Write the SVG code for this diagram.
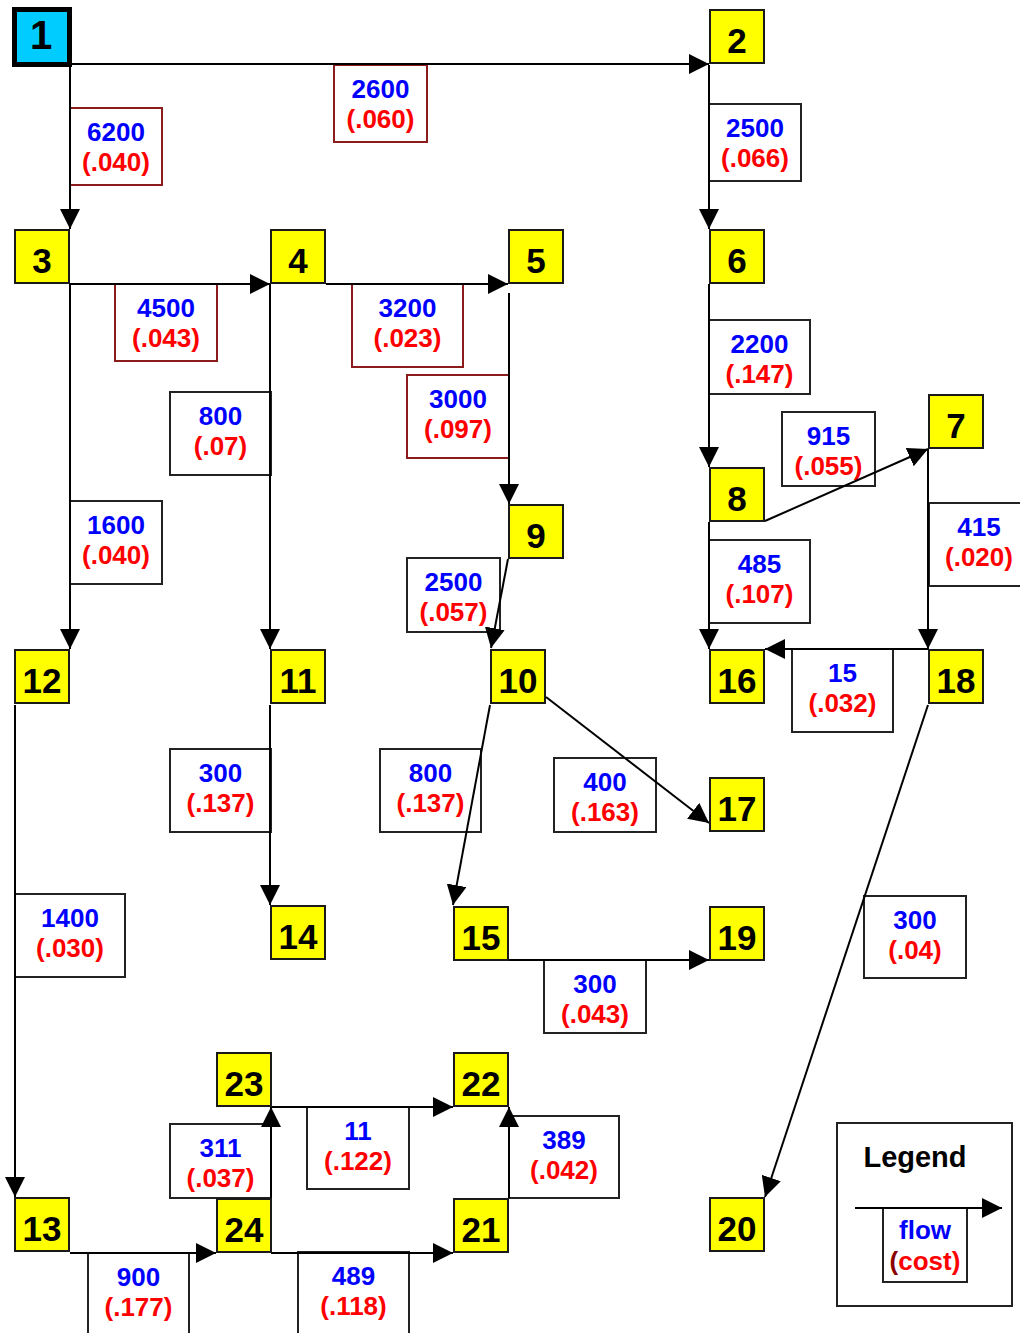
<svg xmlns="http://www.w3.org/2000/svg" width="1020" height="1333" viewBox="0 0 1020 1333">
<style>
text{font-family:"Liberation Sans",Arial,Helvetica,sans-serif;font-weight:bold;text-anchor:middle}
.n rect{fill:#ffff00;stroke:#1a1a1a;stroke-width:2}
.n text{font-size:35px;fill:#000}
.e{fill:none;stroke:#000;stroke-width:2}
.ea{fill:none;stroke:#000;stroke-width:2;marker-end:url(#ah)}
.lb rect{fill:#fff;stroke:#222;stroke-width:2}
.lb.r rect{stroke:#8c1c1c}
.lb text{font-size:26px}
.f{fill:#0000ff}
.c{fill:#ff0000}
</style>
<defs>
<marker id="ah" markerUnits="userSpaceOnUse" markerWidth="20" markerHeight="20" refX="20" refY="10" orient="auto">
<path d="M0,0 L20,10 L0,20 z" fill="#000"/>
</marker>
</defs>
<rect x="0" y="0" width="1020" height="1333" fill="#fff"/>

<g id="labels">
<g id="lbl-1-2" class="lb r"><rect x="334" y="65" width="93" height="77"/><text x="380.5" y="98" class="f">2600</text><text x="380.5" y="128" class="c">(.060)</text></g>
<g id="lbl-1-3" class="lb r"><rect x="70" y="108" width="92" height="77"/><text x="116" y="141" class="f">6200</text><text x="116" y="171" class="c">(.040)</text></g>
<g id="lbl-2-6" class="lb"><rect x="709" y="104" width="92" height="77"/><text x="755" y="137" class="f">2500</text><text x="755" y="167" class="c">(.066)</text></g>
<g id="lbl-3-4" class="lb r"><rect x="115" y="284" width="102" height="77"/><text x="166" y="317" class="f">4500</text><text x="166" y="347" class="c">(.043)</text></g>
<g id="lbl-4-5" class="lb r"><rect x="352" y="284" width="111" height="83"/><text x="407.5" y="317" class="f">3200</text><text x="407.5" y="347" class="c">(.023)</text></g>
<g id="lbl-4-11" class="lb"><rect x="170" y="392" width="101" height="83"/><text x="220.5" y="425" class="f">800</text><text x="220.5" y="455" class="c">(.07)</text></g>
<g id="lbl-5-9" class="lb r"><rect x="407" y="375" width="102" height="83"/><text x="458" y="408" class="f">3000</text><text x="458" y="438" class="c">(.097)</text></g>
<g id="lbl-6-8" class="lb"><rect x="709" y="320" width="101" height="74"/><text x="759.5" y="353" class="f">2200</text><text x="759.5" y="383" class="c">(.147)</text></g>
<g id="lbl-8-7" class="lb"><rect x="782" y="412" width="93" height="74"/><text x="828.5" y="445" class="f">915</text><text x="828.5" y="475" class="c">(.055)</text></g>
<g id="lbl-3-12" class="lb"><rect x="70" y="501" width="92" height="83"/><text x="116" y="534" class="f">1600</text><text x="116" y="564" class="c">(.040)</text></g>
<g id="lbl-7-18" class="lb"><rect x="929" y="503" width="100" height="83"/><text x="979" y="536" class="f">415</text><text x="979" y="566" class="c">(.020)</text></g>
<g id="lbl-8-16" class="lb"><rect x="709" y="540" width="101" height="83"/><text x="759.5" y="573" class="f">485</text><text x="759.5" y="603" class="c">(.107)</text></g>
<g id="lbl-9-10" class="lb"><rect x="407" y="558" width="93" height="74"/><text x="453.5" y="591" class="f">2500</text><text x="453.5" y="621" class="c">(.057)</text></g>
<g id="lbl-18-16" class="lb"><rect x="792" y="649" width="101" height="83"/><text x="842.5" y="682" class="f">15</text><text x="842.5" y="712" class="c">(.032)</text></g>
<g id="lbl-11-14" class="lb"><rect x="170" y="749" width="101" height="83"/><text x="220.5" y="782" class="f">300</text><text x="220.5" y="812" class="c">(.137)</text></g>
<g id="lbl-10-15" class="lb"><rect x="380" y="749" width="101" height="83"/><text x="430.5" y="782" class="f">800</text><text x="430.5" y="812" class="c">(.137)</text></g>
<g id="lbl-10-17" class="lb"><rect x="554" y="758" width="102" height="74"/><text x="605" y="791" class="f">400</text><text x="605" y="821" class="c">(.163)</text></g>
<g id="lbl-12-13" class="lb"><rect x="15" y="894" width="110" height="83"/><text x="70" y="927" class="f">1400</text><text x="70" y="957" class="c">(.030)</text></g>
<g id="lbl-18-20" class="lb"><rect x="864" y="896" width="102" height="82"/><text x="915" y="929" class="f">300</text><text x="915" y="959" class="c">(.04)</text></g>
<g id="lbl-15-19" class="lb"><rect x="544" y="960" width="102" height="73"/><text x="595" y="993" class="f">300</text><text x="595" y="1023" class="c">(.043)</text></g>
<g id="lbl-23-22" class="lb"><rect x="307" y="1107" width="102" height="82"/><text x="358" y="1140" class="f">11</text><text x="358" y="1170" class="c">(.122)</text></g>
<g id="lbl-21-22" class="lb"><rect x="509" y="1116" width="110" height="82"/><text x="564" y="1149" class="f">389</text><text x="564" y="1179" class="c">(.042)</text></g>
<g id="lbl-24-23" class="lb"><rect x="170" y="1124" width="101" height="74"/><text x="220.5" y="1157" class="f">311</text><text x="220.5" y="1187" class="c">(.037)</text></g>
<g id="lbl-13-24" class="lb"><rect x="88" y="1253" width="101" height="83"/><text x="138.5" y="1286" class="f">900</text><text x="138.5" y="1316" class="c">(.177)</text></g>
<g id="lbl-24-21" class="lb"><rect x="298" y="1252" width="111" height="84"/><text x="353.5" y="1285" class="f">489</text><text x="353.5" y="1315" class="c">(.118)</text></g>
</g>

<g id="connectors">
<path id="e-1-2" class="ea" d="M72,64 L709,64"/>
<path id="e-1-3" class="ea" d="M70,67 L70,229"/>
<path id="e-2-6" class="ea" d="M709,65 L709,229"/>
<path id="e-3-4" class="ea" d="M70,284 L270,284"/>
<path id="e-4-5" class="ea" d="M326,284 L508,284"/>
<path id="e-3-12" class="ea" d="M70,284 L70,649"/>
<path id="e-4-11" class="ea" d="M270,284 L270,649"/>
<path id="e-5-9" class="ea" d="M509,293 L509,504"/>
<path id="e-9-10" class="ea" d="M508,559 L491,648"/>
<path id="e-6-8" class="ea" d="M709,284 L709,467"/>
<path id="e-8-7" class="ea" d="M765,521 L928,449"/>
<path id="e-8-16" class="ea" d="M709,522 L709,649"/>
<path id="e-7-18" class="ea" d="M928,449 L928,649"/>
<path id="e-18-16" class="ea" d="M928,649 L765,649"/>
<path id="e-12-13" class="ea" d="M15,705 L15,1197"/>
<path id="e-11-14" class="ea" d="M270,705 L270,905"/>
<path id="e-10-15" class="ea" d="M490,705 L453,905"/>
<path id="e-10-17" class="ea" d="M546,697 L709,823"/>
<path id="e-15-19" class="ea" d="M509,960 L709,960"/>
<path id="e-18-20" class="ea" d="M928,705 L765,1197"/>
<path id="e-13-24" class="ea" d="M70,1253 L216,1253"/>
<path id="e-24-21" class="ea" d="M271,1253 L453,1253"/>
<path id="e-24-23" class="ea" d="M271,1198 L271,1107"/>
<path id="e-23-22" class="ea" d="M271,1107 L453,1107"/>
<path id="e-21-22" class="ea" d="M509,1198 L509,1107"/>
</g>

<g id="node-1"><rect x="14.5" y="9.5" width="55" height="55" fill="#00ccff" stroke="#000" stroke-width="5"/><text x="41" y="49" font-size="40">1</text></g>
<g id="node-2" class="n"><rect x="710" y="10" width="54" height="53"/><text x="737" y="53">2</text></g>
<g id="node-3" class="n"><rect x="15" y="230" width="54" height="53"/><text x="42" y="273">3</text></g>
<g id="node-4" class="n"><rect x="271" y="230" width="54" height="53"/><text x="298" y="273">4</text></g>
<g id="node-5" class="n"><rect x="509" y="230" width="54" height="53"/><text x="536" y="273">5</text></g>
<g id="node-6" class="n"><rect x="710" y="230" width="54" height="53"/><text x="737" y="273">6</text></g>
<g id="node-7" class="n"><rect x="929" y="395" width="54" height="53"/><text x="956" y="438">7</text></g>
<g id="node-8" class="n"><rect x="710" y="468" width="54" height="53"/><text x="737" y="511">8</text></g>
<g id="node-9" class="n"><rect x="509" y="505" width="54" height="53"/><text x="536" y="548">9</text></g>
<g id="node-10" class="n"><rect x="491" y="650" width="54" height="53"/><text x="518" y="693">10</text></g>
<g id="node-11" class="n"><rect x="271" y="650" width="54" height="53"/><text x="298" y="693">11</text></g>
<g id="node-12" class="n"><rect x="15" y="650" width="54" height="53"/><text x="42" y="693">12</text></g>
<g id="node-13" class="n"><rect x="15" y="1198" width="54" height="53"/><text x="42" y="1241">13</text></g>
<g id="node-14" class="n"><rect x="271" y="906" width="54" height="53"/><text x="298" y="949">14</text></g>
<g id="node-15" class="n"><rect x="454" y="907" width="54" height="53"/><text x="481" y="950">15</text></g>
<g id="node-16" class="n"><rect x="710" y="650" width="54" height="53"/><text x="737" y="693">16</text></g>
<g id="node-17" class="n"><rect x="710" y="778" width="54" height="53"/><text x="737" y="821">17</text></g>
<g id="node-18" class="n"><rect x="929" y="650" width="54" height="53"/><text x="956" y="693">18</text></g>
<g id="node-19" class="n"><rect x="710" y="907" width="54" height="53"/><text x="737" y="950">19</text></g>
<g id="node-20" class="n"><rect x="710" y="1198" width="54" height="53"/><text x="737" y="1241">20</text></g>
<g id="node-21" class="n"><rect x="454" y="1199" width="54" height="53"/><text x="481" y="1242">21</text></g>
<g id="node-22" class="n"><rect x="454" y="1053" width="54" height="53"/><text x="481" y="1096">22</text></g>
<g id="node-23" class="n"><rect x="217" y="1053" width="54" height="53"/><text x="244" y="1096">23</text></g>
<g id="node-24" class="n"><rect x="217" y="1199" width="54" height="53"/><text x="244" y="1242">24</text></g>

<g id="legend">
<rect x="837" y="1123" width="175" height="183" fill="#fff" stroke="#222" stroke-width="2"/>
<text x="915" y="1167" font-size="29" fill="#000">Legend</text>
<g class="lb"><rect x="883" y="1208" width="84" height="74"/><text x="925" y="1239" class="f">flow</text><text x="925" y="1270" class="c"><tspan fill="#8b0000">(</tspan>cost)</text></g>
<path class="ea" d="M855,1208 L1002,1208"/>
</g>
</svg>
